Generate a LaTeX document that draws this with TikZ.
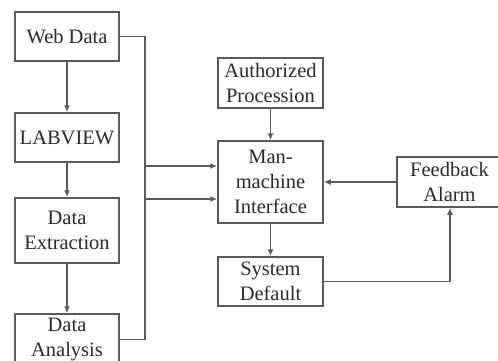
\documentclass[tikz,border=0pt]{standalone}
\usepackage{fontspec}
\setmainfont{Liberation Serif}
\usetikzlibrary{arrows.meta}
\definecolor{linegray}{HTML}{5A5A5A}
\definecolor{textgray}{HTML}{2A2A2A}
\begin{document}
\begin{tikzpicture}[x=1pt,y=-1pt,
  box/.style={draw=linegray,line width=1.5pt,rectangle,inner sep=0pt,align=center,
    text=textgray,font=\fontsize{20.5}{25}\selectfont,minimum width=104pt},
  conn/.style={draw=linegray,line width=1.5pt,-{Latex[length=7pt,width=6pt]}}]
\useasboundingbox (0,0) rectangle (498,360);
\clip (0,0) rectangle (498,360);
\fill[white] (0,0) rectangle (498,360);
\node[box,minimum height=49pt] (web) at (67,36.5) {Web Data};
\node[box,minimum height=49pt] (lab) at (67,137.5) {LABVIEW};
\node[box,minimum height=65pt] (ext) at (67,230.5) {Data\\Extraction};
\node[box,minimum height=51pt] (ana) at (67,339.5) {Data\\Analysis};
\node[box,minimum width=105pt,minimum height=50pt] (auth) at (270.5,83) {Authorized\\Procession};
\node[box,minimum width=105pt,minimum height=82pt] (mmi) at (270.5,182) {Man-\\machine\\Interface};
\node[box,minimum width=105pt,minimum height=49pt] (sys) at (270.5,281.5) {System\\Default};
\node[box,minimum width=105pt,minimum height=50pt] (fb) at (449.5,182) {Feedback\\Alarm};
\draw[conn] (web) -- (lab);
\draw[conn] (lab) -- (ext);
\draw[conn] (ext) -- (ana);
\draw[conn] (auth) -- (mmi);
\draw[conn] (mmi) -- (sys);
\draw[conn] (fb.west) -- (mmi.east);
\draw[conn] (web.east) -- ++(25,0) |- ([yshift=-17pt]mmi.west);
\draw[conn] (ana.east) -- ++(25,0) |- ([yshift=16pt]mmi.west);
\draw[conn] (sys.east) -| ([xshift=0.5pt]fb.south);
\end{tikzpicture}
\end{document}
